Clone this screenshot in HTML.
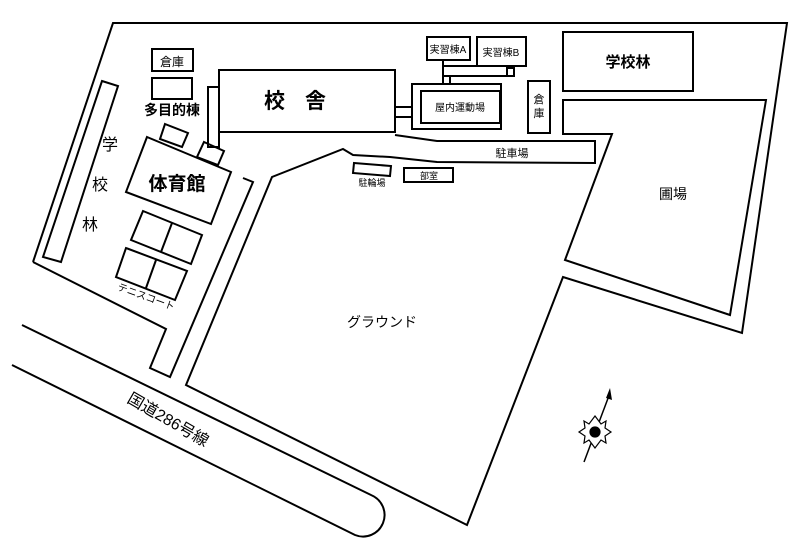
<!DOCTYPE html>
<html><head><meta charset="utf-8"><style>
html,body{margin:0;padding:0;background:#fff;}
svg{display:block;}
text{font-family:"Liberation Sans","Noto Sans CJK JP",sans-serif;fill:#000;}
</style></head><body>
<svg width="800" height="543" viewBox="0 0 800 543" xmlns="http://www.w3.org/2000/svg">
<rect width="800" height="543" fill="#fff"/>
<g fill="none" stroke="#000" stroke-width="2" stroke-linejoin="miter">
<polyline points="33,262 113,23 787,23 742,333 563,277 467,525 186,385 272,177 343,149 353,155 390,157 437,162 595,163 595,141 437,141 395,135"/>
<polyline points="33,262 166,329 150,368 170,377 253,182 243,178"/>
<polygon points="563,100 766,100 730,315 565,260 612,134 563,134"/>
<rect x="563" y="32" width="130" height="59"/>
<polygon points="102,81 118,86 61,262 43,257"/>
<rect x="152" y="49" width="41" height="22"/>
<rect x="152" y="78" width="40" height="21"/>
<rect x="219" y="70" width="176" height="62"/>
<rect x="208" y="87" width="11" height="60"/>
<polygon points="165,124 188,133 182,147 160,139"/>
<polygon points="204,142 224,151 218,165 197,157"/>
<polygon points="147,137 231,172 211,224 126,192"/>
<polygon points="143,211 202,235 191,264 131,240"/>
<line x1="172" y1="223" x2="161" y2="252"/>
<polygon points="126,248 187,271 175,300 116,277"/>
<line x1="156" y1="260" x2="146" y2="288"/>
<rect x="427" y="37" width="43" height="23"/>
<rect x="477" y="37" width="49" height="29"/>
<polyline points="443,60 443,84"/>
<polyline points="450,76 450,84"/>
<polyline points="443,66 477,66"/>
<polyline points="443,76 507,76"/>
<rect x="507" y="68" width="7" height="8"/>
<rect x="412" y="84" width="89" height="45"/>
<rect x="421" y="91" width="79" height="32"/>
<rect x="395" y="107" width="17" height="10"/>
<rect x="528" y="81" width="22" height="52"/>
<polygon points="354,163 391,166 390,176 353,173"/>
<rect x="404" y="168" width="49" height="14"/>
<path d="M22,325 L371,495 A17,17 0 0 1 355,535 L12,365"/>
<line x1="610" y1="393" x2="584" y2="462" stroke-width="1.5"/>
</g>
<g transform="translate(595,432)" fill="#fff" stroke="#000" stroke-width="1.2">
<polygon points="0,-16 6,-8 11,-11 10,-4 16,0 10,4 11,11 6,8 0,16 -6,8 -11,11 -10,4 -16,0 -10,-4 -11,-11 -6,-8"/>
<circle r="5" fill="#000"/>
</g>
<polygon points="610,388 612,400 606,398" fill="#000"/>
<text x="172" y="66" font-size="12" text-anchor="middle">倉庫</text>
<text x="172" y="115" font-size="14" text-anchor="middle" font-weight="bold">多目的棟</text>
<text x="305" y="108" font-size="21" text-anchor="middle" font-weight="bold" letter-spacing="20">校舎</text>
<text x="177" y="190" font-size="19" text-anchor="middle" font-weight="bold">体育館</text>
<text x="110" y="150" font-size="16" text-anchor="middle">学</text>
<text x="100" y="190" font-size="16" text-anchor="middle">校</text>
<text x="90" y="230" font-size="16" text-anchor="middle">林</text>
<text x="145" y="300" font-size="10" text-anchor="middle" transform="rotate(20 145 300)">テニスコート</text>
<text x="448" y="53" font-size="10" text-anchor="middle">実習棟A</text>
<text x="501" y="56" font-size="10" text-anchor="middle">実習棟B</text>
<text x="460" y="111" font-size="10" text-anchor="middle">屋内運動場</text>
<text x="539" y="103" font-size="11" text-anchor="middle">倉</text>
<text x="539" y="117" font-size="11" text-anchor="middle">庫</text>
<text x="628" y="67" font-size="15" text-anchor="middle" font-weight="bold">学校林</text>
<text x="512" y="157" font-size="11" text-anchor="middle">駐車場</text>
<text x="372" y="186" font-size="9" text-anchor="middle">駐輪場</text>
<text x="429" y="179" font-size="9" text-anchor="middle">部室</text>
<text x="673" y="199" font-size="14" text-anchor="middle">圃場</text>
<text x="382" y="327" font-size="14" text-anchor="middle">グラウンド</text>
<text x="168" y="425" font-size="16" text-anchor="middle" transform="rotate(30 168 420)">国道286号線</text>
</svg>
</body></html>
